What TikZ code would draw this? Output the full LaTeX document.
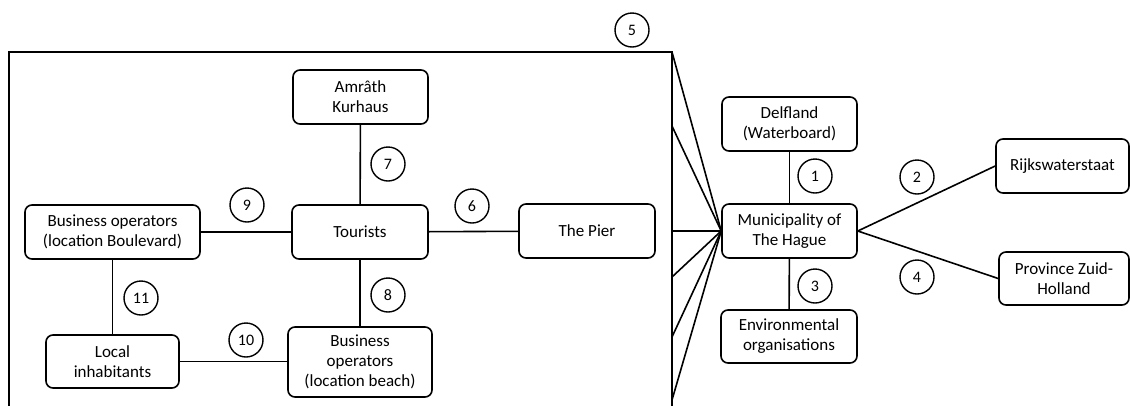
\documentclass[tikz,border=0pt]{standalone}
\usepackage{fontspec}
\setmainfont{Carlito}
\begin{document}
\begin{tikzpicture}[x=1pt,y=-1pt,
  box/.style={draw,line width=1.6pt,rounded corners=7pt,align=center,inner sep=0pt,
    font=\fontsize{17}{20}\selectfont},
  num/.style={draw,circle,line width=1.4pt,minimum size=34pt,inner sep=0pt,
    font=\fontsize{16}{18}\selectfont},
  conn/.style={line width=1.6pt}]
\useasboundingbox (0,0) rectangle (1130,405);
% frame
\draw[conn] (9,406) -- (9,52) -- (672,52) -- (672,406);
\coordinate (e1) at (672,52);
\coordinate (e2) at (672,126);
\coordinate (e3) at (672,231);
\coordinate (e4) at (672,277);
\coordinate (e5) at (672,337);
\coordinate (e6) at (672,400);
% nodes
\node[box,minimum width=135pt,minimum height=54pt] (amr) at (360.5,97) {Amrâth\\Kurhaus};
\node[box,minimum width=136pt,minimum height=54pt] (tour) at (360,232) {Tourists};
\node[box,minimum width=136pt,minimum height=54pt] (pier) at (587,231) {The Pier};
\node[box,minimum width=175pt,minimum height=54pt] (bob) at (112.5,232) {Business operators\\(location Boulevard)};
\node[box,minimum width=133pt,minimum height=53pt] (loc) at (112.5,361.5) {Local\\inhabitants};
\node[box,minimum width=144pt,minimum height=70pt] (bbe) at (360,362) {Business\\operators\\(location beach)};
\node[box,minimum width=135pt,minimum height=54pt] (muni) at (789.5,231) {Municipality of\\The Hague};
\node[box,minimum width=135pt,minimum height=54pt] (delf) at (789.5,124) {Delfland\\(Waterboard)};
\node[box,minimum width=136pt,minimum height=53pt] (env) at (789,336.5) {Environmental\\organisations};
\node[box,minimum width=133pt,minimum height=54pt] (rijk) at (1062.5,166) {Rijkswaterstaat};
\node[box,minimum width=130pt,minimum height=53pt] (prov) at (1064,278.5) {Province Zuid-\\Holland};
% numbers
\node[num] (n1) at (815,176) {1};
\node[num] (n2) at (917,177) {2};
\node[num] (n3) at (815,286) {3};
\node[num] (n4) at (917,277) {4};
\node[num] (n5) at (632,30) {5};
\node[num] (n6) at (472,206) {6};
\node[num] (n7) at (388,164) {7};
\node[num] (n8) at (388,295) {8};
\node[num] (n9) at (247,205) {9};
\node[num] (n10) at (246,340) {10};
\node[num] (n11) at (141,298) {11};
% connectors
\draw[conn] (amr) -- (tour);
\draw[conn] (tour) -- (pier);
\draw[conn] (bob) -- (tour);
\draw[conn] (tour) -- (bbe);
\draw[conn] (bob) -- (loc);
\draw[conn] (loc.east) -- (bbe.west |- loc.east);
\draw[conn] (delf) -- (muni);
\draw[conn] (muni) -- (env);
\draw[conn] (muni.east) -- (rijk.west);
\draw[conn] (muni.east) -- (prov.west);
\foreach \e in {e1,e2,e3,e4,e5,e6} \draw[conn] (\e) -- (muni.west);
\end{tikzpicture}
\end{document}
